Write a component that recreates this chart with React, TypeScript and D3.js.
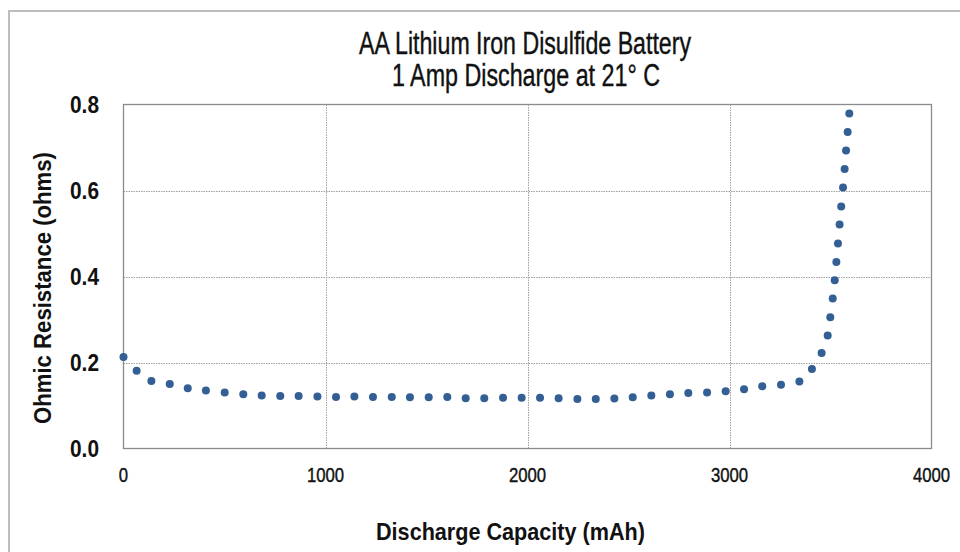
import React, { useRef, useEffect } from 'react'
import * as d3 from 'd3'

// discharge capacity (mAh) and ohmic resistance (ohms)
const capacity = [
  0, 65, 138, 229, 318, 408, 501, 593, 684, 776, 867, 960, 1052, 1143, 1235, 1328,
  1418, 1511, 1603, 1694, 1786, 1879, 1971, 2062, 2154, 2247, 2338, 2430, 2521,
  2613, 2705, 2796, 2889, 2981, 3072, 3162, 3255, 3346, 3408, 3456, 3486, 3499,
  3511, 3521, 3529, 3537, 3545, 3553, 3562, 3570, 3577, 3585, 3593
]
const resistance = [
  0.213, 0.181, 0.157, 0.15, 0.14, 0.135, 0.13, 0.126, 0.123, 0.122, 0.122, 0.121,
  0.12, 0.121, 0.12, 0.12, 0.119, 0.119, 0.12, 0.117, 0.117, 0.118, 0.118, 0.118,
  0.117, 0.115, 0.115, 0.116, 0.119, 0.123, 0.126, 0.129, 0.13, 0.133, 0.138,
  0.145, 0.148, 0.156, 0.185, 0.222, 0.263, 0.305, 0.349, 0.391, 0.434, 0.477,
  0.521, 0.563, 0.607, 0.65, 0.693, 0.736, 0.779
]
const xTicks = [0, 1000, 2000, 3000, 4000]
const yTicks = [0, 0.2, 0.4, 0.6, 0.8]

const titleLines = ['AA Lithium Iron Disulfide Battery', '1 Amp Discharge at 21° C']
const xTitle = 'Discharge Capacity (mAh)'
const yTitle = 'Ohmic Resistance (ohms)'

// no narrow font installed, so Liberation Sans gets squeezed with textLength
const FONT = "'Liberation Sans', Arial, sans-serif"

export default function App() {
  const svgRef = useRef<SVGSVGElement>(null)
  const width = 960
  const height = 552
  const margin = { top: 104.5, right: 28.5, bottom: 103.5, left: 123.5 }

  useEffect(() => {
    const svg = d3.select(svgRef.current)
    svg.selectAll('*').remove()

    const x = d3.scaleLinear().domain([0, 4000]).range([margin.left, width - margin.right])
    const y = d3.scaleLinear().domain([0, 0.8]).range([height - margin.bottom, margin.top])

    svg.append('rect').attr('width', width).attr('height', height).attr('fill', '#fff')

    // outer chart frame
    svg
      .append('rect')
      .attr('x', 9)
      .attr('y', 11)
      .attr('width', width + 20)
      .attr('height', height + 20)
      .attr('fill', 'none')
      .attr('stroke', '#bdbdbd')
      .attr('stroke-width', 2)

    // gridlines
    svg
      .append('g')
      .selectAll('line')
      .data(xTicks.slice(1, -1))
      .join('line')
      .attr('x1', d => Math.round(x(d)) + 0.5)
      .attr('x2', d => Math.round(x(d)) + 0.5)
      .attr('y1', y(0))
      .attr('y2', y(0.8))
      .attr('stroke', '#a0a0a0')
      .attr('stroke-dasharray', '1.5,1')

    svg
      .append('g')
      .selectAll('line')
      .data(yTicks.slice(1, -1))
      .join('line')
      .attr('x1', x(0))
      .attr('x2', x(4000))
      .attr('y1', d => Math.round(y(d)) + 0.5)
      .attr('y2', d => Math.round(y(d)) + 0.5)
      .attr('stroke', '#a0a0a0')
      .attr('stroke-dasharray', '1.5,1')

    // plot border
    svg
      .append('rect')
      .attr('x', x(0))
      .attr('y', y(0.8))
      .attr('width', x(4000) - x(0))
      .attr('height', y(0) - y(0.8))
      .attr('fill', 'none')
      .attr('stroke', '#8a8a8a')
      .attr('stroke-width', 1.3)

    // tick labels
    svg
      .append('g')
      .selectAll('text')
      .data(yTicks)
      .join('text')
      .attr('x', 99)
      .attr('y', d => y(d))
      .attr('dy', '0.36em')
      .attr('text-anchor', 'end')
      .attr('font-family', FONT)
      .attr('font-size', 23)
      .attr('font-weight', 'bold')
      .attr('textLength', 29)
      .attr('lengthAdjust', 'spacingAndGlyphs')
      .attr('fill', '#111')
      .text(d => d3.format('.1f')(d))

    svg
      .append('g')
      .selectAll('text')
      .data(xTicks)
      .join('text')
      .attr('x', d => x(d))
      .attr('y', 482)
      .attr('text-anchor', 'middle')
      .attr('font-family', FONT)
      .attr('font-size', 20)
      .attr('textLength', d => String(d).length * 9.3)
      .attr('lengthAdjust', 'spacingAndGlyphs')
      .attr('fill', '#111')
      .attr('stroke', '#111')
      .attr('stroke-width', 0.4)
      .text(d => d)

    // points
    svg
      .append('g')
      .selectAll('circle')
      .data(capacity.map((c, i) => ({ c, r: resistance[i] })))
      .join('circle')
      .attr('cx', d => x(d.c))
      .attr('cy', d => y(d.r))
      .attr('r', 4)
      .attr('fill', '#335f94')

    // titles
    const titleLen = [332, 268]
    svg
      .append('g')
      .selectAll('text')
      .data(titleLines)
      .join('text')
      .attr('x', (d, i) => (i === 0 ? 525 : 526))
      .attr('y', (d, i) => 54 + i * 32)
      .attr('text-anchor', 'middle')
      .attr('font-family', FONT)
      .attr('font-size', 31)
      .attr('textLength', (d, i) => titleLen[i])
      .attr('lengthAdjust', 'spacingAndGlyphs')
      .attr('fill', '#111')
      .attr('stroke', '#111')
      .attr('stroke-width', 0.4)
      .text(d => d)

    svg
      .append('text')
      .attr('x', 510.5)
      .attr('y', 540)
      .attr('text-anchor', 'middle')
      .attr('font-family', FONT)
      .attr('font-size', 24)
      .attr('font-weight', 'bold')
      .attr('textLength', 269)
      .attr('lengthAdjust', 'spacingAndGlyphs')
      .attr('fill', '#111')
      .text(xTitle)

    svg
      .append('text')
      .attr('transform', 'translate(51,288) rotate(-90)')
      .attr('text-anchor', 'middle')
      .attr('font-family', FONT)
      .attr('font-size', 24)
      .attr('font-weight', 'bold')
      .attr('textLength', 272)
      .attr('lengthAdjust', 'spacingAndGlyphs')
      .attr('fill', '#111')
      .text(yTitle)
  }, [])

  return (
    <svg
      ref={svgRef}
      width={width}
      height={height}
      style={{ position: 'absolute', left: 0, top: 0 }}
    />
  )
}
